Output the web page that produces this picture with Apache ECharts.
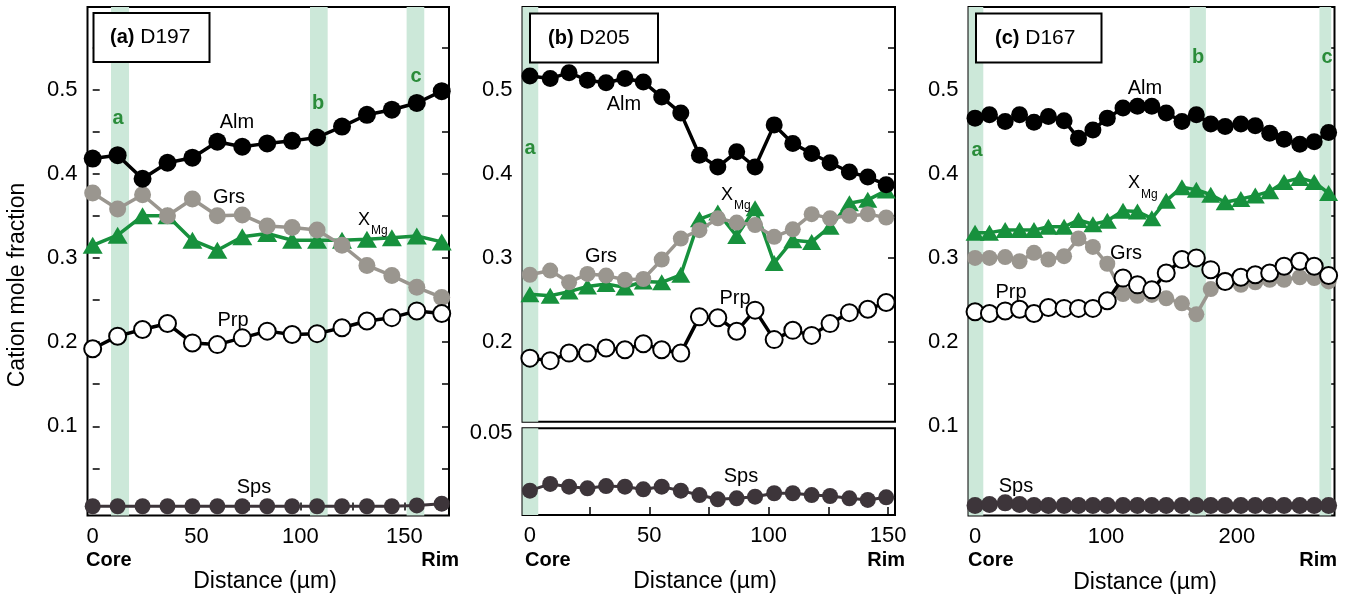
<!DOCTYPE html>
<html><head><meta charset="utf-8">
<script src="https://cdn.jsdelivr.net/npm/echarts@6/dist/echarts.min.js"></script>
<style>html,body{margin:0;padding:0;background:#fff}#c{width:1349px;height:599px}</style>
</head><body><div id="c"></div>
<script>
// ---------- Panel (a) D197 ----------
const distA = [0,12,24,36,48,60,72,84,96,108,120,132,144,156,168];
const almA = [0.418,0.422,0.394,0.413,0.419,0.438,0.432,0.436,0.439,0.443,0.456,0.470,0.476,0.484,0.498];
const grsA = [0.377,0.358,0.375,0.350,0.370,0.350,0.351,0.338,0.336,0.333,0.315,0.291,0.279,0.265,0.253];
const xmgA = [0.315,0.327,0.350,0.350,0.321,0.309,0.325,0.329,0.321,0.321,0.321,0.322,0.324,0.326,0.319];
const prpA = [0.192,0.207,0.215,0.222,0.199,0.197,0.205,0.213,0.209,0.210,0.217,0.225,0.229,0.237,0.234];
const spsA = [0.005,0.005,0.005,0.005,0.005,0.005,0.005,0.005,0.005,0.005,0.005,0.005,0.005,0.006,0.008];
const bandsA = [[8.8,17.5],[104.6,113.1],[151.1,159.6]];

// ---------- Panel (b) D205 ----------
const distB = [0,8.5,16.4,24.1,31.9,39.8,47.5,55.2,63.2,71,78.7,86.6,94.3,102.3,110.1,118,125.7,133.8,141.5,149.2];
const almB = [0.516,0.513,0.520,0.511,0.508,0.513,0.509,0.491,0.472,0.422,0.408,0.426,0.408,0.458,0.436,0.424,0.413,0.402,0.396,0.387];
const grsB = [0.280,0.285,0.271,0.281,0.279,0.274,0.275,0.298,0.323,0.333,0.347,0.342,0.339,0.325,0.334,0.352,0.347,0.350,0.352,0.348];
const xmgB = [0.257,0.255,0.260,0.266,0.269,0.265,0.272,0.271,0.280,0.346,0.354,0.326,0.359,0.294,0.321,0.319,0.337,0.365,0.369,0.380];
const prpB = [0.181,0.178,0.187,0.187,0.193,0.191,0.198,0.191,0.187,0.230,0.229,0.213,0.238,0.203,0.214,0.208,0.222,0.235,0.239,0.247];
const spsB = [0.0149,0.0190,0.0173,0.0163,0.0177,0.0173,0.0157,0.0173,0.0149,0.0122,0.0096,0.0102,0.0112,0.0133,0.0133,0.0122,0.0116,0.0102,0.0092,0.0108];
const bandsB = [[-3.1,3.5]];

// ---------- Panel (c) D167 ----------
const distC = [0,11,23,34,45,56,68,79,90,101,113,124,135,146,158,169,180,191,203,214,225,236,248,259,270];
const almC = [0.466,0.470,0.462,0.470,0.461,0.468,0.463,0.442,0.452,0.466,0.478,0.480,0.480,0.472,0.462,0.470,0.459,0.456,0.459,0.457,0.448,0.441,0.435,0.438,0.449];
const xmgC = [0.330,0.330,0.333,0.333,0.333,0.337,0.337,0.345,0.340,0.344,0.356,0.355,0.347,0.368,0.384,0.381,0.375,0.366,0.370,0.374,0.379,0.390,0.395,0.390,0.377];
const grsC = [0.300,0.300,0.301,0.296,0.306,0.298,0.302,0.323,0.313,0.293,0.257,0.255,0.256,0.252,0.246,0.233,0.263,0.274,0.268,0.271,0.274,0.274,0.277,0.276,0.272];
const prpC = [0.236,0.234,0.237,0.239,0.234,0.241,0.240,0.240,0.240,0.249,0.276,0.268,0.262,0.282,0.298,0.300,0.286,0.272,0.277,0.280,0.282,0.290,0.296,0.290,0.279];
const spsC = [0.006,0.007,0.009,0.007,0.006,0.006,0.006,0.006,0.006,0.006,0.006,0.006,0.006,0.006,0.006,0.006,0.006,0.006,0.006,0.006,0.006,0.006,0.006,0.006,0.006];
const bandsC = [[-5,6.3],[164,176.3],[263,272]];

// ---------- Tick values / labels ----------
const yTicksFull = [0.05,0.1,0.15,0.2,0.25,0.3,0.35,0.4,0.45,0.5,0.55];
const yLabelsFull = [0.1,0.2,0.3,0.4,0.5];
const yTicksBUp = [0.15,0.2,0.25,0.3,0.35,0.4,0.45,0.5,0.55];
const yLabelsBUp = [0.2,0.3,0.4,0.5];
const yLabelsBLow = [0.05];
const xTicksA = [0,25,50,75,100,125,150];
const xLabelsA = [0,50,100,150];
const xTicksB = [0,25,50,75,100,125,150];
const xLabelsB = [0,50,100,150];
const xTicksC = [0,50,100,150,200,250];
const xLabelsC = [0,100,200];

const FONT = '"Liberation Sans", Arial, Helvetica, sans-serif';
const C_GRS = '#9a968f', C_XMG = '#17913d', C_SPS = '#3d353a', C_BAND = '#cce8d9', C_LET = '#2a8c3a';

function xAx(grid, min, max, ticks, labels) {
  return { type:'value', gridIndex:grid, min, max,
    axisLine:{show:false}, splitLine:{show:false},
    axisTick: ticks ? {show:true, inside:true, length:8, lineStyle:{color:'#000', width:1.5}, customValues:ticks} : {show:false},
    axisLabel: labels ? {show:true, customValues:labels, margin:10, fontSize:22, color:'#000', fontFamily:FONT} : {show:false}
  };
}
function yAx(grid, min, max, ticks, labels, pos) {
  return { type:'value', gridIndex:grid, min, max, position:pos,
    axisLine:{show:false}, splitLine:{show:false},
    axisTick: ticks ? {show:true, inside:true, length:7, lineStyle:{color:'#000', width:1.5}, customValues:ticks} : {show:false},
    axisLabel: labels ? {show:true, customValues:labels, margin:10, fontSize:22, color:'#000', fontFamily:FONT,
      formatter: v => String(+v.toFixed(2))} : {show:false}
  };
}
function pairs(d, v) { return d.map((x, i) => [x, v[i]]); }
function ser(name, xi, yi, d, v, o) {
  return { type:'line', name, xAxisIndex:xi, yAxisIndex:yi, data:pairs(d, v),
    symbol:o.symbol || 'circle', symbolSize:o.size, z:o.z, silent:true,
    lineStyle:{color:o.line, width:o.lw || 3.5},
    itemStyle:{color:o.fill, borderColor:o.stroke || o.fill, borderWidth:o.bw || 0},
    emphasis:{disabled:true}, animation:false };
}
function bandSer(xi, yi, d, v, bands) {
  return { type:'line', xAxisIndex:xi, yAxisIndex:yi, data:pairs(d, v), symbol:'none', z:1, silent:true,
    lineStyle:{opacity:0}, animation:false,
    markArea:{silent:true, itemStyle:{color:C_BAND}, label:{show:false},
      data:bands.map(b => [{xAxis:b[0]}, {xAxis:b[1]}])} };
}
function panelSeries(xi, yi, d, alm, grs, xmg, prp, s) {
  return [
    bandSer(xi, yi, d, alm, s.bands),
    ser('XMg', xi, yi, d, xmg, {symbol:'triangle', size:s.tri, line:C_XMG, fill:C_XMG, z:3}),
    ser('Grs', xi, yi, d, grs, {size:s.grs, line:C_GRS, fill:C_GRS, z:4}),
    ser('Prp', xi, yi, d, prp, {size:s.prp, line:'#000', fill:'#fff', stroke:'#000', bw:2, z:5}),
    ser('Alm', xi, yi, d, alm, {size:s.alm, line:'#000', fill:'#000', z:6})
  ];
}

const grids = [
  {left:87.5, top:7, width:361.5, height:508.5},
  {left:522.5, top:7, width:372.5, height:414.7},
  {left:522.5, top:428.3, width:372.5, height:86.7},
  {left:968.5, top:7, width:366, height:508.5}
].map(g => Object.assign(g, {show:true, borderColor:'#000', borderWidth:2, backgroundColor:'transparent', containLabel:false}));

const xAxes = [
  xAx(0, -2.5, 171.5, xTicksA, xLabelsA),
  xAx(1, -3.1, 152.9, null, null),
  xAx(2, -3.1, 152.9, xTicksB, xLabelsB),
  xAx(3, -5, 274.5, xTicksC, xLabelsC)
];
const yAxes = [
  yAx(0, -0.006, 0.598, yTicksFull, yLabelsFull, 'left'),
  yAx(0, -0.006, 0.598, yTicksFull, null, 'right'),
  yAx(1, 0.1055, 0.598, yTicksBUp, yLabelsBUp, 'left'),
  yAx(1, 0.1055, 0.598, yTicksBUp, null, 'right'),
  yAx(2, 0, 0.053, null, yLabelsBLow, 'left'),
  yAx(3, -0.006, 0.598, yTicksFull, yLabelsFull, 'left'),
  yAx(3, -0.006, 0.598, yTicksFull, null, 'right')
];

const series = [].concat(
  panelSeries(0, 0, distA, almA, grsA, xmgA, prpA, {bands:bandsA, tri:[20,17], grs:17, prp:17, alm:18}),
  [ser('Sps', 0, 0, distA, spsA, {size:16, line:C_SPS, fill:C_SPS, lw:3, z:7})],
  panelSeries(1, 2, distB, almB, grsB, xmgB, prpB, {bands:bandsB, tri:[19,16], grs:16, prp:17, alm:17}),
  [bandSer(2, 4, distB, spsB, bandsB),
   ser('Sps', 2, 4, distB, spsB, {size:16, line:C_SPS, fill:C_SPS, lw:3, z:7})],
  panelSeries(3, 5, distC, almC, grsC, xmgC, prpC, {bands:bandsC, tri:[19,16], grs:16, prp:17, alm:17}),
  [ser('Sps', 3, 5, distC, spsC, {size:17, line:C_SPS, fill:C_SPS, lw:3, z:7})]
);

function txt(t, x, y, size, opt) {
  opt = opt || {};
  return { type:'text', x, y, z:100, rotation:opt.rot || 0, silent:true,
    style:{ text:t, font:(opt.bold ? 'bold ' : '') + size + 'px ' + FONT, fill:opt.color || '#000',
      align:opt.align || 'center', verticalAlign:'middle' } };
}
function titleBox(x, y, w, h, tag, name, tx) {
  return [
    { type:'rect', z:99, silent:true, shape:{x, y, width:w, height:h}, style:{fill:'#fff', stroke:'#000', lineWidth:2} },
    { type:'text', z:100, silent:true, x:tx, y:y + h/2,
      style:{ text:'{b|' + tag + '}{r| ' + name + '}', align:'left', verticalAlign:'middle',
        rich:{ b:{font:'bold 20px ' + FONT, fill:'#000'}, r:{font:'21px ' + FONT, fill:'#000'} } } }
  ];
}

const graphics = [].concat(
  titleBox(93.5, 13, 116, 49, '(a)', 'D197', 110),
  titleBox(530, 13.5, 128, 49, '(b)', 'D205', 548),
  titleBox(976, 13.5, 125.5, 49, '(c)', 'D167', 995),
  [
    // panel (a) labels
    txt('Alm', 237, 122, 20), txt('Grs', 229, 197, 20), txt('X', 364, 220, 18), txt('Mg', 371, 231, 12, {align:'left'}),
    txt('Prp', 233, 320, 20), txt('Sps', 254, 487, 20),
    txt('a', 118, 118, 20, {bold:true, color:C_LET}), txt('b', 318, 103, 20, {bold:true, color:C_LET}), txt('c', 416, 76, 20, {bold:true, color:C_LET}),
    // panel (b) labels
    txt('Alm', 624, 104, 20), txt('Grs', 601, 256, 20), txt('X', 727, 195, 18), txt('Mg', 734, 206, 12, {align:'left'}),
    txt('Prp', 735, 298, 20), txt('Sps', 741, 476, 20),
    txt('a', 530, 148, 20, {bold:true, color:C_LET}),
    // panel (c) labels
    txt('Alm', 1145, 88, 20), txt('X', 1134, 183, 18), txt('Mg', 1141, 195, 12, {align:'left'}),
    txt('Grs', 1126, 253, 20), txt('Prp', 1011, 292, 20), txt('Sps', 1016, 486, 20),
    txt('a', 977, 150, 20, {bold:true, color:C_LET}), txt('b', 1198, 57, 20, {bold:true, color:C_LET}), txt('c', 1327, 57, 20, {bold:true, color:C_LET}),
    // axis titles
    txt('Core', 86, 560, 20, {bold:true, align:'left'}), txt('Rim', 459, 560, 20, {bold:true, align:'right'}),
    txt('Distance (µm)', 265, 582, 23),
    txt('Core', 525, 560, 20, {bold:true, align:'left'}), txt('Rim', 905, 560, 20, {bold:true, align:'right'}),
    txt('Distance (µm)', 705, 582, 23),
    txt('Core', 968, 560, 20, {bold:true, align:'left'}), txt('Rim', 1337, 560, 20, {bold:true, align:'right'}),
    txt('Distance (µm)', 1145, 583, 23),
    txt('Cation mole fraction', 18, 285, 23, {rot:Math.PI/2})
  ]
);

const chart = echarts.init(document.getElementById('c'), null, {renderer:'canvas'});
chart.setOption({
  animation:false,
  backgroundColor:'#fff',
  grid:grids, xAxis:xAxes, yAxis:yAxes, series:series, graphic:graphics
});
</script></body></html>
